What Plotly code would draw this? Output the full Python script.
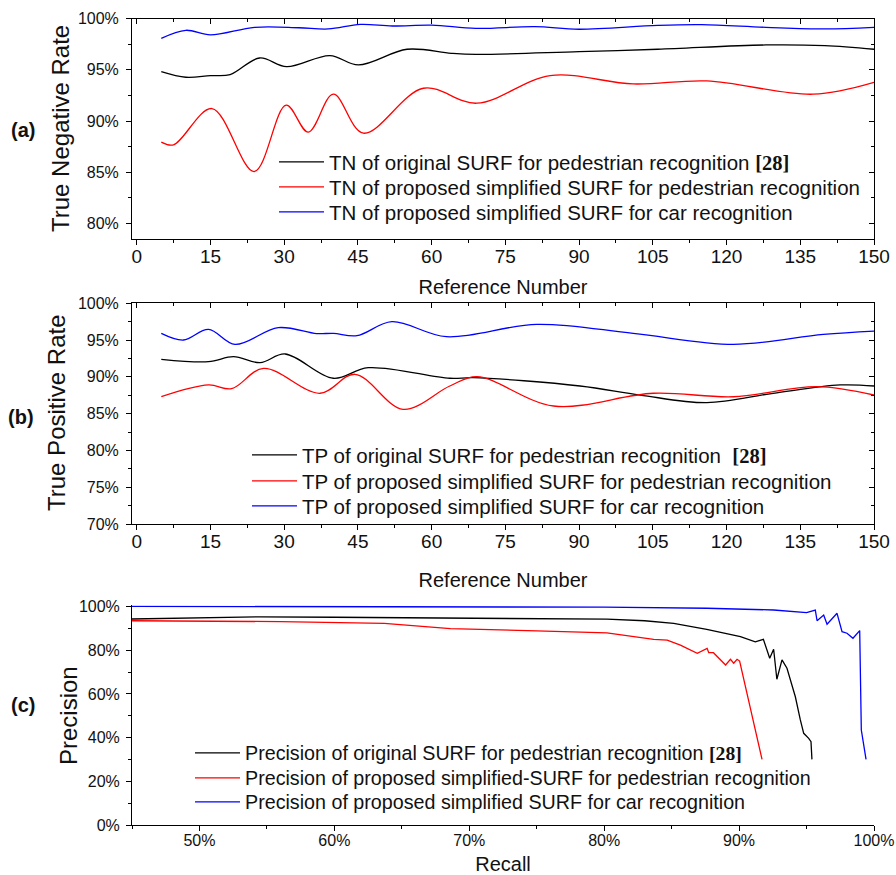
import plotly.graph_objects as go

# ---- (a) True negative rate vs reference number ----
tn_orig_x = [5, 10, 15, 19, 25, 30.5, 39.3, 45.1, 55, 64, 69, 90, 106, 128, 140, 150]
tn_orig_y = [94.82, 94.27, 94.43, 94.53, 96.15, 95.3, 96.38, 95.47, 97.0, 96.6, 96.5, 96.77, 97.0, 97.42, 97.35, 97.0]
tn_ped_x = [5, 7.5, 15.3, 23.9, 30.4, 34.9, 40, 46.1, 58.3, 69.2, 84.1, 101, 116, 137.6, 150]
tn_ped_y = [87.94, 87.68, 91.22, 85.08, 91.55, 88.92, 92.62, 88.82, 93.2, 91.74, 94.43, 93.62, 93.91, 92.62, 93.78]
tn_car_x = [5, 10, 15, 24, 33, 39, 45.5, 52, 60, 69, 81, 90, 106, 115, 128, 140, 150]
tn_car_y = [98.07, 98.85, 98.4, 99.14, 99.1, 98.98, 99.43, 99.27, 99.35, 99.04, 99.2, 98.95, 99.33, 99.4, 99.14, 98.98, 99.14]

# ---- (b) True positive rate vs reference number ----
tp_orig_x = [5, 14.6, 19.7, 25.1, 30.2, 40, 47.1, 63.7, 68.5, 90.2, 102.4, 116, 129.5, 143.1, 150]
tp_orig_y = [92.39, 92.06, 92.74, 91.93, 93.11, 89.81, 91.25, 89.81, 89.89, 88.76, 87.53, 86.49, 87.77, 88.9, 88.76]
tp_ped_x = [5, 14.6, 19.3, 25.8, 37.3, 44.4, 54.2, 63.7, 69.2, 84.8, 105.1, 121.4, 138.3, 150]
tp_ped_y = [87.3, 88.9, 88.39, 91.16, 87.77, 90.35, 85.59, 88.76, 90.03, 86.04, 87.77, 87.3, 88.67, 87.53]
tp_car_x = [5, 9.5, 14.6, 20, 28.8, 36.6, 40, 44.8, 51.9, 63, 81.4, 101, 121.4, 139.7, 150]
tp_car_y = [95.92, 95.01, 96.46, 94.42, 96.69, 95.88, 95.92, 95.6, 97.5, 95.46, 97.14, 95.92, 94.42, 95.78, 96.23]

# ---- (c) Precision vs recall ----
pr_orig_recall = [45, 54.5, 60, 68.6, 75, 80.2, 83, 85.15, 87.6, 88.86, 90.1, 91.2, 91.8, 92.27, 92.56, 92.8,
                  93.18, 93.55, 94.17, 94.54, 94.79, 95.16, 95.33, 95.4]
pr_orig_prec = [94.2, 95.2, 95.0, 94.7, 94.5, 94.1, 93.4, 92.2, 89.5, 87.9, 86.1, 83.8, 84.9, 76.3, 80.4, 66.7,
                75.5, 71.7, 58.7, 48.1, 42.0, 39.7, 38.2, 30.1]
pr_ped_recall = [45, 56, 63.7, 66, 68.6, 75, 80.2, 83.67, 84.67, 85.65, 86.9, 87.63, 87.75, 88.1, 89.0, 89.36,
                 89.6, 89.85, 90.04, 91.7]
pr_ped_prec = [93.4, 93.0, 92.2, 91.2, 89.8, 88.8, 87.9, 84.9, 84.6, 82.3, 78.5, 80.8, 78.8, 78.8, 73.2, 75.8,
               74.0, 75.8, 75.0, 30.1]
pr_car_recall = [45, 60, 70, 80, 87.6, 92.56, 95.0, 95.65, 95.78, 96.27, 96.52, 96.89, 97.26, 97.63, 98.0,
                 98.44, 98.94, 99.06, 99.41]
pr_car_prec = [100, 99.9, 99.8, 99.6, 99.1, 98.3, 97.1, 98.3, 93.4, 96.0, 91.8, 94.5, 96.8, 88.4, 87.7,
               85.4, 88.9, 43.5, 30.1]

ref_ticks = list(range(0, 151, 15))

SANS = "Liberation Sans, Arial, sans-serif"
REF = "<span style=\"font-family:'Liberation Serif';font-weight:bold\">[28]</span>"
BLACK, RED, BLUE = "#000000", "#ff0000", "#0000ff"
LW = 1.3
W, H = 896, 875


def px_x(p):
    return p / W


def px_y(p):
    return 1 - p / H


fig = go.Figure()

# each legend entry gets its own legend box so the rows sit at the right spacing
legend_slots = []


def add_line(x, y, color, name, xa, ya, leg_x, leg_y, leg_size, shape="spline"):
    idx = len(legend_slots) + 1
    key = "legend" if idx == 1 else f"legend{idx}"
    legend_slots.append((key, leg_x, leg_y, leg_size))
    fig.add_trace(go.Scatter(
        x=x, y=y, mode="lines", name=name, showlegend=True,
        line=dict(color=color, width=LW, shape=shape, smoothing=1.0 if shape == "spline" else None),
        xaxis=xa, yaxis=ya, legend=key, hoverinfo="skip"))


add_line(tn_orig_x, tn_orig_y, BLACK, "TN of original SURF for pedestrian recognition " + REF,
         "x", "y", 274, 162, 20.5)
add_line(tn_ped_x, tn_ped_y, RED, "TN of proposed simplified SURF for pedestrian recognition",
         "x", "y", 274, 187, 20.5)
add_line(tn_car_x, tn_car_y, BLUE, "TN of proposed simplified SURF for car recognition",
         "x", "y", 274, 212, 20.5)

add_line(tp_orig_x, tp_orig_y, BLACK, "TP of original SURF for pedestrian recognition  " + REF,
         "x2", "y2", 247, 455, 20.5)
add_line(tp_ped_x, tp_ped_y, RED, "TP of proposed simplified SURF for pedestrian recognition",
         "x2", "y2", 247, 481, 20.5)
add_line(tp_car_x, tp_car_y, BLUE, "TP of proposed simplified SURF for car recognition",
         "x2", "y2", 247, 506, 20.5)

add_line(pr_orig_recall, pr_orig_prec, BLACK, "Precision of original SURF for pedestrian recognition " + REF,
         "x3", "y3", 190, 753, 19.7, shape="linear")
add_line(pr_ped_recall, pr_ped_prec, RED, "Precision of proposed simplified-SURF for pedestrian recognition",
         "x3", "y3", 190, 778, 19.7, shape="linear")
add_line(pr_car_recall, pr_car_prec, BLUE, "Precision of proposed simplified SURF for car recognition",
         "x3", "y3", 190, 802, 19.7, shape="linear")

# empty traces that carry the inward-ticked top/right frame axes of panels (a) and (b)
for xa, ya in (("x4", "y4"), ("x5", "y5")):
    fig.add_trace(go.Scatter(x=[], y=[], xaxis=xa, yaxis=ya, showlegend=False, hoverinfo="skip"))

dom_x = [px_x(132), px_x(874)]
dom_a = [px_y(239), px_y(18.5)]
dom_b = [px_y(524), px_y(303.3)]
dom_c = [px_y(825.3), px_y(605.2)]

ref_range = [-0.96, 150]
tick_font = dict(family=SANS, size=16, color="#111")
xtick_font = dict(family=SANS, size=19, color="#111")
title_font_y = dict(family=SANS, size=24, color="#111")
title_font_x = dict(family=SANS, size=20, color="#111")

common = dict(showgrid=False, zeroline=False, showline=True, linecolor="black", linewidth=1,
              ticks="outside", tickcolor="black", ticklen=5, tickwidth=1, automargin=False)

ref_axis = dict(common, range=ref_range, tickmode="array", tickvals=ref_ticks, tickfont=xtick_font,
                minor=dict(dtick=7.5, tick0=0, ticks="outside", ticklen=3, tickcolor="black"),
                ticklabelstandoff=-5)

fig.update_layout(
    width=W, height=H, margin=dict(l=0, r=0, t=0, b=0, autoexpand=False),
    paper_bgcolor="white", plot_bgcolor="white", showlegend=True,
    font=dict(family=SANS, color="#111"),
    xaxis=dict(ref_axis, domain=dom_x, anchor="y",
               title=dict(text="Reference Number", font=title_font_x, standoff=14)),
    yaxis=dict(common, domain=dom_a, anchor="x", range=[78.5, 100], dtick=5, tick0=80, ticksuffix="%",
               tickfont=tick_font, ticklabelstandoff=4,
               minor=dict(dtick=2.5, tick0=80, ticks="outside", ticklen=3, tickcolor="black")),
    xaxis2=dict(ref_axis, domain=dom_x, anchor="y2",
                title=dict(text="Reference Number", font=title_font_x, standoff=22)),
    yaxis2=dict(common, domain=dom_b, anchor="x2", range=[70, 100], dtick=5, tick0=70, ticksuffix="%",
                tickfont=tick_font, ticklabelstandoff=4,
                minor=dict(dtick=2.5, tick0=70, ticks="outside", ticklen=3, tickcolor="black")),
    xaxis3=dict(common, domain=dom_x, anchor="y3", range=[45, 100], dtick=10, tick0=50, ticksuffix="%",
                tickfont=tick_font, ticklabelstandoff=-5,
                minor=dict(dtick=5, tick0=45, ticks="outside", ticklen=3, tickcolor="black"),
                title=dict(text="Recall", font=title_font_x, standoff=15)),
    yaxis3=dict(common, domain=dom_c, anchor="x3", range=[0, 100.5], dtick=20, tick0=0, ticksuffix="%",
                tickfont=tick_font, ticklabelstandoff=3,
                minor=dict(dtick=10, tick0=0, ticks="outside", ticklen=3, tickcolor="black")),
)

# top / right frame with inward ticks for panels (a) and (b)
frame = dict(showgrid=False, zeroline=False, showline=True, linecolor="black", linewidth=1,
             ticks="inside", tickcolor="black", ticklen=5, showticklabels=False, automargin=False)
fig.update_layout(
    xaxis4=dict(frame, overlaying="x", side="top", anchor="y4", range=ref_range, tickmode="array",
                tickvals=ref_ticks, minor=dict(dtick=7.5, tick0=0, ticks="inside", ticklen=3, tickcolor="black")),
    yaxis4=dict(frame, overlaying="y", side="right", anchor="x4", range=[78.5, 100], dtick=5, tick0=80,
                minor=dict(dtick=2.5, tick0=80, ticks="inside", ticklen=3, tickcolor="black")),
    xaxis5=dict(frame, overlaying="x2", side="top", anchor="y5", range=ref_range, tickmode="array",
                tickvals=ref_ticks, minor=dict(dtick=7.5, tick0=0, ticks="inside", ticklen=3, tickcolor="black")),
    yaxis5=dict(frame, overlaying="y2", side="right", anchor="x5", range=[70, 100], dtick=5, tick0=70,
                minor=dict(dtick=2.5, tick0=70, ticks="inside", ticklen=3, tickcolor="black")),
)

leg = dict(bgcolor="rgba(0,0,0,0)", borderwidth=0, xanchor="left", yanchor="middle", itemwidth=45, visible=True)
fig.update_layout({key: dict(leg, x=px_x(lx), y=px_y(ly), font=dict(family=SANS, size=fs, color="#111"))
                   for key, lx, ly, fs in legend_slots})

# y-axis titles, rotated beside each panel
for text, xc, yc in (("True Negative Rate", 60, 129), ("True Positive Rate", 56, 413), ("Precision", 68, 716)):
    fig.add_annotation(text=text, xref="paper", yref="paper", x=px_x(xc), y=px_y(yc), textangle=-90,
                       xanchor="center", yanchor="middle", showarrow=False, font=title_font_y)

# panel labels
for label, xc, yc in (("(a)", 23, 130), ("(b)", 21, 417), ("(c)", 23, 705)):
    fig.add_annotation(text=f"<b>{label}</b>", xref="paper", yref="paper", x=px_x(xc), y=px_y(yc),
                       xanchor="center", yanchor="middle", showarrow=False,
                       font=dict(family=SANS, size=20, color="#111"))

fig.write_html("out.html")
